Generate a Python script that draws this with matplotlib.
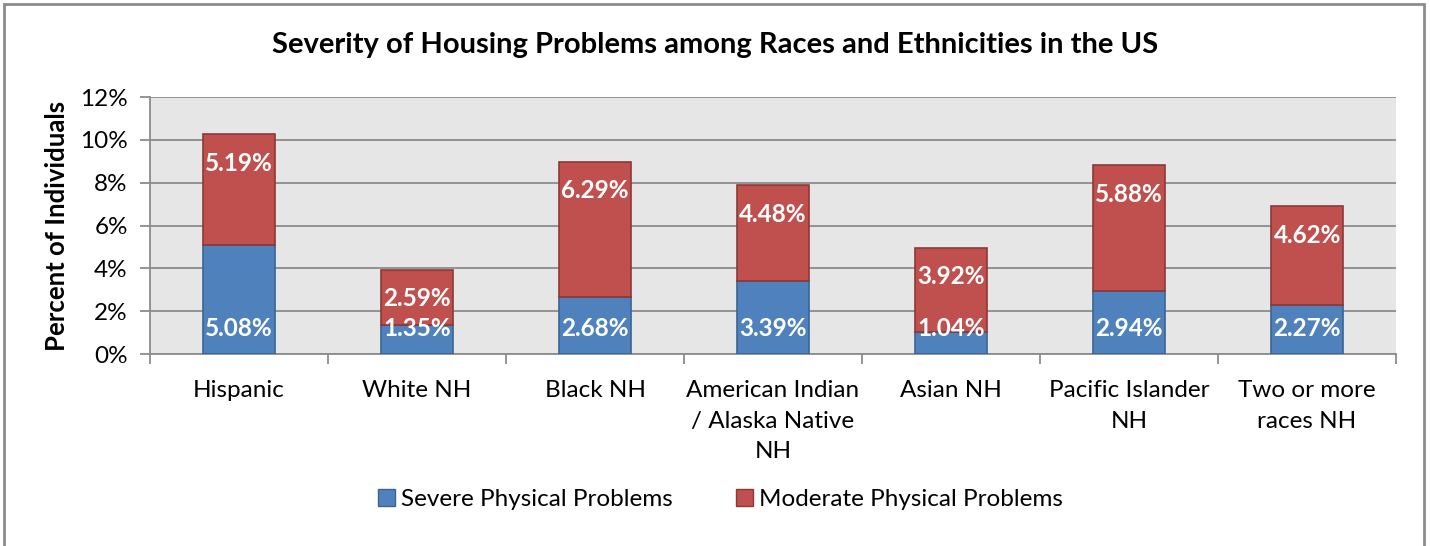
import matplotlib

matplotlib.use("Agg")
import matplotlib.pyplot as plt
from matplotlib.patches import Rectangle, Patch
from matplotlib.ticker import FuncFormatter, MultipleLocator, FixedLocator
import numpy as np

plt.rcParams["font.family"] = ["Lato", "DejaVu Sans"]

categories = [
    "Hispanic", "White NH", "Black NH", "American Indian\n/ Alaska Native\nNH",
    "Asian NH", "Pacific Islander\nNH", "Two or more\nraces NH",
]
severe = [5.08, 1.35, 2.68, 3.39, 1.04, 2.94, 2.27]
moderate = [5.19, 2.59, 6.29, 4.48, 3.92, 5.88, 4.62]

blue = "#4f81bd"
blue_edge = "#3a6493"
red = "#c0504d"
red_edge = "#8c3836"

fig = plt.figure(figsize=(14.3, 5.46), dpi=100)
ax = fig.add_axes([0.1049, 0.3516, 0.8714, 0.4707])

x = np.arange(len(categories))
w = 0.40
ax.bar(x, severe, w, color=blue, edgecolor=blue_edge, linewidth=1.2, zorder=3)
ax.bar(x, moderate, w, bottom=severe, color=red, edgecolor=red_edge,
       linewidth=1.2, zorder=3)

# data labels: severe at inside base, moderate at inside end
for xi, s, m in zip(x, severe, moderate):
    ax.annotate(f"{s:.2f}%", (xi, 0), xytext=(0, 26), textcoords="offset pixels",
                ha="center", va="center", color="white", fontsize=17.5,
                fontweight="bold", zorder=5)
    ax.annotate(f"{m:.2f}%", (xi, s + m), xytext=(0, -29),
                textcoords="offset pixels", ha="center", va="center",
                color="white", fontsize=17.5, fontweight="bold", zorder=5)

ax.set_xlim(-0.5, len(categories) - 0.5)
ax.set_ylim(0, 12)
ax.yaxis.set_major_locator(MultipleLocator(2))
ax.yaxis.set_major_formatter(FuncFormatter(lambda v, p: f"{v:.0f}%"))
ax.set_facecolor("#e6e6e6")
ax.grid(axis="y", color="#8c8c8c", linewidth=1.3, zorder=1)
ax.set_axisbelow(True)

ax.set_xticks(x)
ax.set_xticklabels(categories, fontsize=17.5, linespacing=1.55)
ax.tick_params(axis="x", length=0, pad=19)
ax.xaxis.set_minor_locator(FixedLocator(np.arange(-0.5, len(categories), 1.0)))
ax.tick_params(axis="x", which="minor", length=7, color="#8c8c8c", width=1.3)
ax.tick_params(axis="y", length=7, color="#8c8c8c", width=1.3, labelsize=17.5,
               pad=9)

for side in ("top", "right"):
    ax.spines[side].set_visible(False)
ax.spines["left"].set_color("#8c8c8c")
ax.spines["bottom"].set_color("#8c8c8c")
ax.spines["left"].set_linewidth(1.3)
ax.spines["bottom"].set_linewidth(1.3)

ax.set_ylabel("Percent of Individuals", fontsize=18.5, fontweight="bold",
              labelpad=8)
fig.text(0.5, 0.917, "Severity of Housing Problems among Races and Ethnicities in the US",
         ha="center", va="center", fontsize=21, fontweight="bold")

handles = [
    Patch(facecolor=blue, edgecolor=blue_edge, label="Severe Physical Problems"),
    Patch(facecolor=red, edgecolor=red_edge, label="Moderate Physical Problems"),
]
fig.legend(handles=handles, loc="center", bbox_to_anchor=(0.504, 0.085), ncol=2,
           frameon=False, fontsize=17.5, handlelength=0.7, handleheight=0.7,
           handletextpad=0.25, columnspacing=2.6)

# outer chart border
fig.patches.append(Rectangle((0.003, -0.05), 0.993, 1.043, transform=fig.transFigure,
                             fill=False, edgecolor="#8c8c8c", linewidth=2))

fig.savefig("out.png", dpi=100)
